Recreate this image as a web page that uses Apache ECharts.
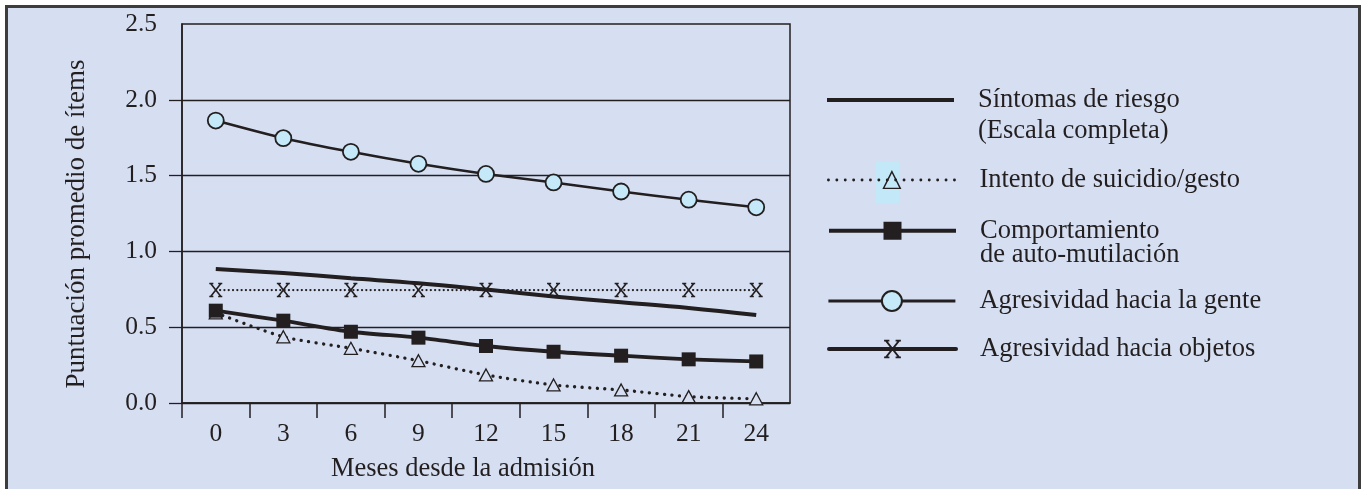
<!DOCTYPE html>
<html>
<head>
<meta charset="utf-8">
<script src="https://cdn.jsdelivr.net/npm/echarts@6/dist/echarts.min.js"></script>
<style>
  html, body { margin: 0; padding: 0; background: #ffffff; }
  #chart { width: 1367px; height: 489px; }
</style>
</head>
<body>
<div id="chart"></div>
<script>
// ---- data ----
const months = ['0', '3', '6', '9', '12', '15', '18', '21', '24'];
const yTickValues = [0, 0.5, 1.0, 1.5, 2.0];
const xBoundaryTicks = [-0.5, 0.5, 1.5, 2.5, 3.5, 4.5, 5.5, 6.5, 7.5];
const sintomas = [0.884, 0.857, 0.823, 0.790, 0.748, 0.703, 0.665, 0.627, 0.580];
const suicidio = [0.595, 0.437, 0.361, 0.279, 0.185, 0.119, 0.086, 0.042, 0.028];
const automutilacion = [0.609, 0.543, 0.470, 0.431, 0.376, 0.338, 0.312, 0.288, 0.274];
const agresGente = [1.863, 1.747, 1.657, 1.578, 1.511, 1.455, 1.395, 1.341, 1.291];
const agresObjetos = [0.745, 0.745, 0.745, 0.745, 0.745, 0.745, 0.745, 0.745, 0.745];

const names = {
  sint: 'Síntomas de riesgo\n(Escala completa)',
  suic: 'Intento de suicidio/gesto',
  auto: 'Comportamiento\nde auto-mutilación',
  gente: 'Agresividad hacia la gente',
  obj: 'Agresividad hacia objetos'
};

const INK = '#231f20';
const BG = '#d6dff2';
const CYAN = '#c5e9f8';
const FONT = '"Liberation Serif", "Times New Roman", serif';
const X_PATH = 'path://M0,0L12,13M12,0L0,13M-1.6,0L3.2,0M8.8,0L13.6,0M-1.6,13L3.2,13M8.8,13L13.6,13';

function legendBase(name, top, itemHeight, lineHeight, extra) {
  return Object.assign({
    data: [name],
    left: 827,
    top: top,
    padding: 0,
    itemWidth: 127,
    itemHeight: itemHeight,
    selectedMode: false,
    textStyle: {
      fontFamily: FONT, fontSize: 26.5, color: INK,
      lineHeight: lineHeight, padding: [0, 0, 0, 19]
    }
  }, extra || {});
}

const chart = echarts.init(document.getElementById('chart'), null, { renderer: 'canvas' });
chart.setOption({
  animation: false,
  backgroundColor: '#ffffff',
  textStyle: { fontFamily: FONT, color: INK },
  graphic: [
    {
      type: 'rect', z: -10,
      shape: { x: 6.5, y: 6.5, width: 1353, height: 600 },
      style: { fill: BG, stroke: '#3d3d3d', lineWidth: 3 }
    },
    {
      type: 'rect', z: -5,
      shape: { x: 876, y: 162, width: 23, height: 41 },
      style: { fill: '#c3e8f7' }
    }
  ],
  grid: {
    left: 182, top: 24, right: 577, bottom: 86,
    show: true, borderColor: INK, borderWidth: 1.5, backgroundColor: 'transparent'
  },
  xAxis: [
    {
      type: 'category',
      data: months,
      boundaryGap: true,
      position: 'bottom',
      name: 'Meses desde la admisión',
      nameLocation: 'middle',
      nameGap: 53,
      nameTextStyle: { fontFamily: FONT, fontSize: 26.5, color: INK, padding: [0, 46, 0, 0] },
      axisLine: { show: true, onZero: false, lineStyle: { color: INK, width: 1.5 } },
      axisTick: { show: false },
      axisLabel: { fontFamily: FONT, fontSize: 25.5, color: INK, margin: 18 },
      splitLine: { show: false }
    },
    {
      type: 'value',
      position: 'bottom',
      min: -0.5, max: 8.5,
      axisLine: { show: false, onZero: false },
      axisTick: { show: true, length: 15, customValues: xBoundaryTicks, lineStyle: { color: INK, width: 1.5 } },
      axisLabel: { show: false },
      splitLine: { show: false }
    }
  ],
  yAxis: {
    type: 'value',
    min: 0, max: 2.5, interval: 0.5,
    position: 'left',
    name: 'Puntuación promedio de ítems',
    nameLocation: 'middle',
    nameGap: 92,
    nameTextStyle: { fontFamily: FONT, fontSize: 27, color: INK, padding: [0, 21, 0, 0] },
    axisLine: { show: true, onZero: false, lineStyle: { color: INK, width: 1.5 } },
    axisTick: { show: true, length: 13, customValues: yTickValues, lineStyle: { color: INK, width: 1.3 } },
    axisLabel: { fontFamily: FONT, fontSize: 25.5, color: INK, margin: 25,
      formatter: function (v) { return v.toFixed(1); } },
    splitLine: { show: true, lineStyle: { color: INK, width: 1.3 } }
  },
  legend: [
    legendBase(names.sint, 53.5, 4, 31, {
      data: [{ name: names.sint, icon: 'rect' }],
      formatter: function (n) { return '\n' + n; },
      itemStyle: { color: INK, borderWidth: 0 }
    }),
    legendBase(names.suic, 165, 21, 30, {
      itemStyle: { color: 'transparent', borderColor: INK, borderWidth: 1.4 },
      lineStyle: { color: INK, width: 2.8, type: [0.1, 8.3], cap: 'round' }
    }),
    legendBase(names.auto, 192.75, 22.5, 24.5, {
      formatter: function (n) { return '\n' + n; },
      itemStyle: { color: INK, borderColor: INK, borderWidth: 0 },
      lineStyle: { color: INK, width: 4, type: 'solid' }
    }),
    legendBase(names.gente, 286, 25, 30, {
      itemStyle: { color: CYAN, borderColor: INK, borderWidth: 2 },
      lineStyle: { color: INK, width: 2.8, type: 'solid' }
    }),
    legendBase(names.obj, 334, 21, 30, {
      itemStyle: { color: INK, borderColor: INK, borderWidth: 1.8 },
      lineStyle: { color: INK, width: 4, type: 'solid' }
    })
  ],
  series: [
    {
      name: names.sint, type: 'line', data: sintomas,
      smooth: 0.4, symbol: 'none', color: INK,
      lineStyle: { color: INK, width: 4 }
    },
    {
      name: names.obj, type: 'line', data: agresObjetos,
      symbol: X_PATH, symbolSize: [13, 13], color: INK,
      itemStyle: { color: INK, borderColor: INK, borderWidth: 1.6 },
      lineStyle: { color: INK, width: 2.2, type: [0.1, 4.2], cap: 'round' }
    },
    {
      name: names.suic, type: 'line', data: suicidio,
      smooth: 0.25, symbol: 'triangle', symbolSize: [13, 12], color: INK,
      itemStyle: { color: BG, borderColor: INK, borderWidth: 1.3 },
      lineStyle: { color: INK, width: 3.3, type: [0.1, 7.4], cap: 'round' }
    },
    {
      name: names.auto, type: 'line', data: automutilacion,
      smooth: 0.25, symbol: 'rect', symbolSize: 14, color: INK,
      itemStyle: { color: INK },
      lineStyle: { color: INK, width: 3.8 }
    },
    {
      name: names.gente, type: 'line', data: agresGente,
      smooth: 0.25, symbol: 'circle', symbolSize: 16, color: INK,
      itemStyle: { color: CYAN, borderColor: INK, borderWidth: 1.8 },
      lineStyle: { color: INK, width: 2.6 }
    }
  ]
});
</script>
</body>
</html>
